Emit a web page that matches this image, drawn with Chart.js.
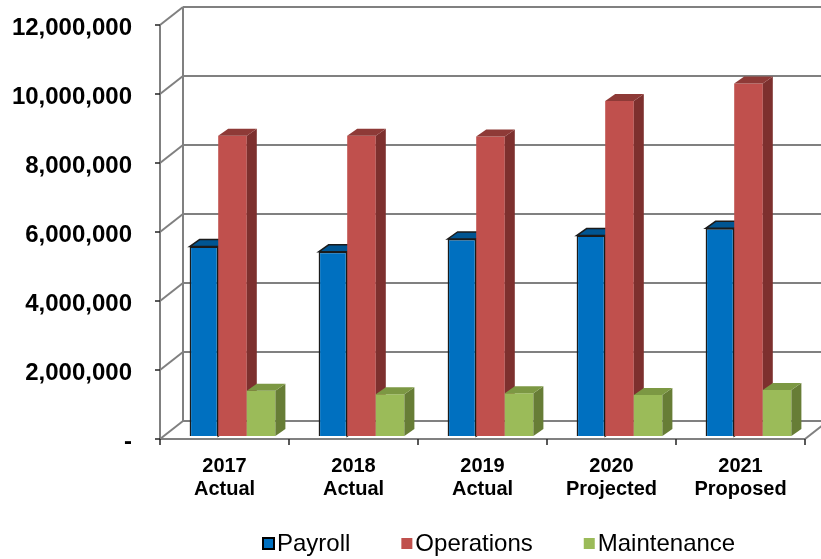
<!DOCTYPE html>
<html lang="en">
<head>
  <meta charset="UTF-8">
  <title>Expenditures by Category</title>
  <script src="https://cdn.jsdelivr.net/npm/chart.js@4.4.0/dist/chart.umd.min.js"></script>
  <style>
    body {
      margin: 0;
      background: #ffffff;
    }
  </style>
</head>
<body>
  <canvas id="chart" width="821" height="559"></canvas>

  <script>
    // data
    const years = [['2017', 'Actual'], ['2018', 'Actual'], ['2019', 'Actual'], ['2020', 'Projected'], ['2021', 'Proposed']];
    const payroll = [5490000, 5340000, 5710000, 5810000, 6020000];
    const operations = [8700000, 8700000, 8680000, 9710000, 10220000];
    const maintenance = [1310000, 1210000, 1240000, 1190000, 1330000];
    const yMax = 12000000;
    const yStep = 2000000;

    const FONT = "'Liberation Sans', Arial, sans-serif";

    // depth of the walls and of the bars (3d look)
    const DX = 23, DY = -18;
    const BDX = 10, BDY = -7;
    const SHIFT_X = 8, SHIFT_Y = -3;

    // side / top shading for each series
    const shades = [
      { front: '#0070C0', side: '#00477d', top: '#005592', edge: '#1b1b1b' },
      { front: '#C0504D', side: '#7d302e', top: '#8e3a37', edge: null },
      { front: '#9BBB59', side: '#677d36', top: '#7c9843', edge: null }
    ];

    function line(ctx, x1, y1, x2, y2) {
      ctx.beginPath();
      ctx.moveTo(x1, y1);
      ctx.lineTo(x2, y2);
      ctx.stroke();
    }

    function poly(ctx, pts, fill, stroke) {
      ctx.beginPath();
      ctx.moveTo(pts[0][0], pts[0][1]);
      for (let i = 1; i < pts.length; i++) ctx.lineTo(pts[i][0], pts[i][1]);
      ctx.closePath();
      ctx.fillStyle = fill;
      ctx.fill();
      if (stroke) {
        ctx.strokeStyle = stroke;
        ctx.lineWidth = 1.5;
        ctx.stroke();
      }
    }

    function drawWalls(chart) {
      const { ctx, chartArea: a, scales: { x, y } } = chart;
      ctx.save();
      ctx.lineWidth = 2;
      ctx.strokeStyle = '#808080';

      // back wall grid + left side wall
      y.ticks.forEach(t => {
        const py = y.getPixelForValue(t.value);
        line(ctx, a.left + DX, py + DY, chart.width, py + DY);
        line(ctx, a.left, py, a.left + DX, py + DY);
      });
      line(ctx, a.left + DX, a.top + DY, a.left + DX, a.bottom + DY);
      line(ctx, a.left, a.top, a.left, a.bottom);

      // floor
      line(ctx, a.left, a.bottom, a.right, a.bottom);
      line(ctx, a.right, a.bottom, a.right + DX, a.bottom + DY);

      // tick marks
      ctx.strokeStyle = '#222222';
      ctx.lineWidth = 1.5;
      y.ticks.forEach(t => {
        const py = y.getPixelForValue(t.value);
        line(ctx, a.left - 5, py, a.left, py);
      });
      const half = (x.getPixelForValue(1) - x.getPixelForValue(0)) / 2;
      for (let i = 0; i <= years.length; i++) {
        const px = x.getPixelForValue(i) - half;
        line(ctx, px, a.bottom, px, a.bottom + 6);
      }
      ctx.restore();
    }

    // one category at a time, left to right, so each bar hides the side of the previous one
    function drawBars(chart) {
      const ctx = chart.ctx;
      const metas = chart.data.datasets.map((ds, i) => chart.getDatasetMeta(i));
      ctx.save();
      // bars sit a little behind the front plane
      ctx.translate(SHIFT_X, SHIFT_Y);
      years.forEach((yr, j) => {
        metas.forEach((meta, i) => {
          const bar = meta.data[j];
          const s = shades[i];
          bar.draw(ctx);
          const { x, y, base, width } = bar.getProps(['x', 'y', 'base', 'width'], true);
          const l = x - width / 2, r = x + width / 2;
          poly(ctx, [[r, y], [r + BDX, y + BDY], [r + BDX, base + BDY], [r, base]], s.side, s.edge);
          poly(ctx, [[l, y], [l + BDX, y + BDY], [r + BDX, y + BDY], [r, y]], s.top, s.edge);
        });
      });
      ctx.restore();
    }

    const threeD = {
      id: 'threeD',
      beforeDatasetsDraw(chart) {
        drawWalls(chart);
        drawBars(chart);
        return false;
      },
      afterDraw(chart) {
        // legend
        const ctx = chart.ctx;
        ctx.save();
        ctx.font = '24px ' + FONT;
        ctx.textBaseline = 'middle';
        let lx = 263;
        const ly = 544;
        chart.data.datasets.forEach((ds, i) => {
          const s = shades[i];
          ctx.fillStyle = s.front;
          ctx.fillRect(lx, ly - 6, 11, 11);
          if (s.edge) {
            ctx.strokeStyle = '#000000';
            ctx.lineWidth = 2;
            ctx.strokeRect(lx, ly - 6, 11, 11);
          }
          ctx.fillStyle = '#000000';
          ctx.fillText(ds.label, lx + 14, ly);
          lx += 14 + ctx.measureText(ds.label).width + 51;
        });
        ctx.restore();
      }
    };

    new Chart(document.getElementById('chart'), {
      type: 'bar',
      data: {
        labels: years,
        datasets: [
          { label: 'Payroll', data: payroll, backgroundColor: shades[0].front, borderColor: shades[0].edge, borderWidth: 1.5 },
          { label: 'Operations', data: operations, backgroundColor: shades[1].front, borderWidth: 0 },
          { label: 'Maintenance', data: maintenance, backgroundColor: shades[2].front, borderWidth: 0 }
        ]
      },
      options: {
        responsive: false,
        animation: false,
        layout: { padding: { top: 25, right: 16, left: 0, bottom: 0 } },
        datasets: { bar: { categoryPercentage: 0.665, barPercentage: 1 } },
        plugins: {
          legend: { display: false },
          tooltip: { enabled: false }
        },
        scales: {
          x: {
            grid: { display: false, drawTicks: false },
            border: { display: false },
            ticks: {
              color: '#000000',
              padding: 16,
              maxRotation: 0,
              font: { family: FONT, size: 20, weight: 'bold', lineHeight: 1.15 }
            },
            afterFit(scale) {
              scale.height = 120;
              scale.paddingTop = scale.paddingBottom = 0;
            }
          },
          y: {
            min: 0,
            max: yMax,
            grid: { display: false, drawTicks: false },
            border: { display: false },
            ticks: {
              stepSize: yStep,
              color: '#000000',
              padding: 28,
              labelOffset: 3,
              font: { family: FONT, size: 24, weight: 'bold' },
              callback: v => v === 0 ? '-' : v.toLocaleString('en-US')
            },
            afterFit(scale) {
              scale.width = 160;
              scale.paddingTop = scale.paddingBottom = 0;
            }
          }
        }
      },
      plugins: [threeD]
    });
  </script>
</body>
</html>
